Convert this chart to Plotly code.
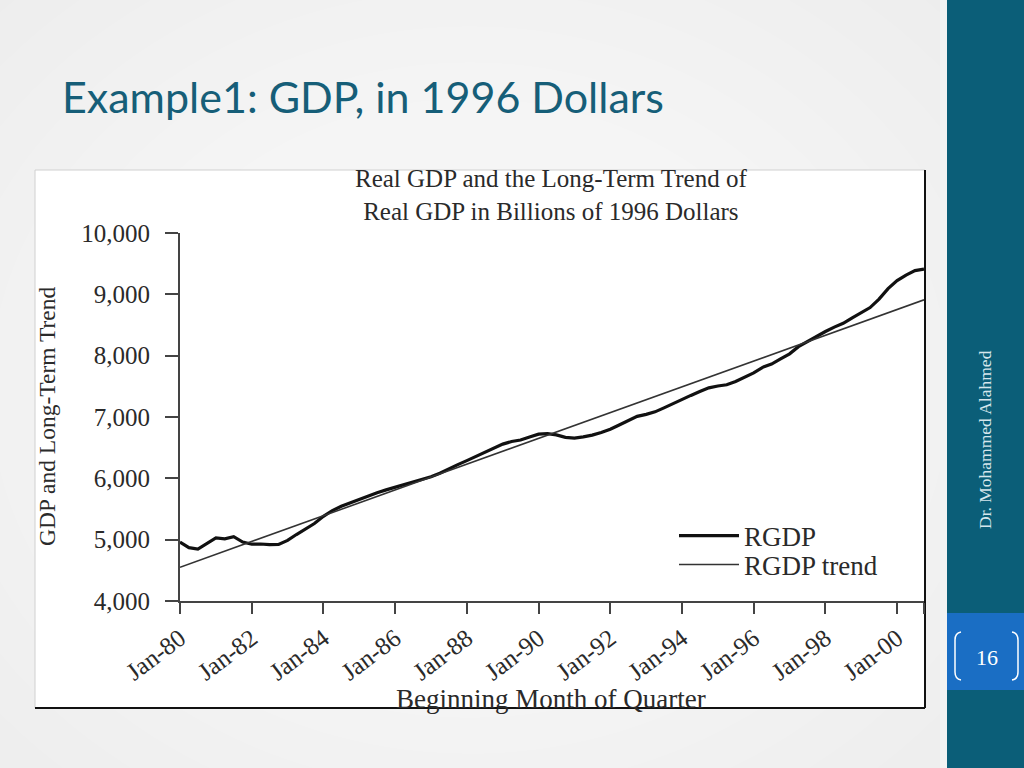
import plotly.graph_objects as go
import pandas as pd

# ---------------- data ----------------
quarters = pd.date_range("1980-01-01", periods=84, freq="QS")  # 1980Q1 .. 2000Q4
rgdp = [4960, 4870, 4848, 4940, 5029, 5013, 5048, 4961, 4926, 4929,
        4919, 4923, 4989, 5084, 5166, 5263, 5381, 5475, 5544, 5602,
        5656, 5714, 5764, 5812, 5855, 5903, 5944, 5984, 6026, 6083,
        6157, 6224, 6289, 6356, 6421, 6492, 6558, 6600, 6625, 6675,
        6720, 6730, 6708, 6668, 6656, 6677, 6705, 6748, 6801, 6870,
        6946, 7010, 7043, 7084, 7149, 7220, 7283, 7352, 7415, 7476,
        7505, 7526, 7578, 7647, 7718, 7810, 7863, 7947, 8030, 8147,
        8232, 8304, 8394, 8466, 8527, 8617, 8708, 8784, 8922, 9093,
        9223, 9314, 9386, 9410]
trend_dates = ["1980-01-01", "2000-10-01"]
trend_values = [4550, 8910]

x_tick_dates = ["1980-01-01", "1982-01-01", "1984-01-01", "1986-01-01",
                "1988-01-01", "1990-01-01", "1992-01-01", "1994-01-01",
                "1996-01-01", "1998-01-01", "2000-01-01", "2000-10-01"]
x_tick_labels = ["Jan-80", "Jan-82", "Jan-84", "Jan-86", "Jan-88", "Jan-90",
                 "Jan-92", "Jan-94", "Jan-96", "Jan-98", "Jan-00", ""]
y_ticks = [4000, 5000, 6000, 7000, 8000, 9000, 10000]
y_tick_labels = ["4,000", "5,000", "6,000", "7,000", "8,000", "9,000", "10,000"]

slide_title = "Example1: GDP, in 1996 Dollars"
chart_title = ("Real GDP and the Long-Term Trend of<br>"
               "Real GDP in Billions of 1996 Dollars")
x_title = "Beginning Month of Quarter"
y_title = "GDP and Long-Term Trend"
author = "Dr. Mohammed Alahmed"
page_no = "16"

# ---------------- layout helpers ----------------
W, H = 1024, 768
L, R, T, B = 180, 924, 233, 601


def px(x):
    return (x - L) / (R - L)


def py(y):
    return (B - y) / (B - T)


SERIF = "Liberation Serif, Times New Roman, serif"
TXT = "#2a2a2a"

fig = go.Figure()
fig.add_trace(go.Scatter(x=quarters, y=rgdp, mode="lines", name="RGDP",
                         legend="legend",
                         line=dict(color="#111111", width=3.2)))
fig.add_trace(go.Scatter(x=trend_dates, y=trend_values, mode="lines",
                         name="RGDP trend", legend="legend2",
                         line=dict(color="#333333", width=1.6)))

shapes = []
# slide background: smooth radial lightening toward the centre
cx, cy = 470, 390
for k in range(16):
    r = 760 - k * 36
    shapes.append(dict(type="circle", xref="paper", yref="paper", layer="below",
                       x0=px(cx - r * 1.2), x1=px(cx + r * 1.2),
                       y0=py(cy + r), y1=py(cy - r),
                       fillcolor="white", opacity=0.09, line=dict(width=0)))
# chart image box
shapes.append(dict(type="rect", xref="paper", yref="paper", layer="below",
                   x0=px(35), x1=px(925), y0=py(708), y1=py(170),
                   fillcolor="white", line=dict(color="#d0d0d0", width=1)))
shapes.append(dict(type="line", xref="paper", yref="paper", layer="below",
                   x0=px(925), x1=px(925), y0=py(708), y1=py(170),
                   line=dict(color="#111111", width=2)))
shapes.append(dict(type="line", xref="paper", yref="paper", layer="below",
                   x0=px(35), x1=px(925), y0=py(708), y1=py(708),
                   line=dict(color="#111111", width=2)))
# sidebar
shapes.append(dict(type="rect", xref="paper", yref="paper", layer="below",
                   x0=px(940), x1=px(947), y0=py(775), y1=py(-5),
                   fillcolor="#f3f3f3", line=dict(width=0)))
shapes.append(dict(type="rect", xref="paper", yref="paper", layer="below",
                   x0=px(947), x1=px(1030), y0=py(775), y1=py(-5),
                   fillcolor="#0b5e78", line=dict(width=0)))
shapes.append(dict(type="rect", xref="paper", yref="paper", layer="below",
                   x0=px(947), x1=px(1030), y0=py(690), y1=py(613),
                   fillcolor="#1a6ec4", line=dict(width=0)))


def path(points_cmds):
    out = []
    for cmd, pts in points_cmds:
        coords = " ".join(f"{px(x):.5f},{py(y):.5f}" for x, y in pts)
        out.append(f"{cmd} {coords}")
    return " ".join(out)


left_br = path([("M", [(961, 632)]), ("Q", [(955, 633), (955, 640)]),
                ("L", [(955, 672)]), ("Q", [(955, 679), (961, 680)])])
right_br = path([("M", [(1012, 632)]), ("Q", [(1018, 633), (1018, 640)]),
                 ("L", [(1018, 672)]), ("Q", [(1018, 679), (1012, 680)])])
for p in (left_br, right_br):
    shapes.append(dict(type="path", xref="paper", yref="paper", path=p,
                       line=dict(color="white", width=1.5)))

annotations = [
    dict(text=slide_title, xref="paper", yref="paper", x=px(60), y=py(97),
         xanchor="left", yanchor="middle", showarrow=False,
         font=dict(family="Lato, Open Sans, sans-serif",
                   size=43, color="#165e78")),
    dict(text=chart_title, xref="paper", yref="paper", x=px(551), y=py(195),
         xanchor="center", yanchor="middle", showarrow=False,
         font=dict(family=SERIF, size=25, color=TXT)),
    dict(text=y_title, xref="paper", yref="paper", x=px(47), y=py(417),
         xanchor="center", yanchor="middle", textangle=-90, showarrow=False,
         font=dict(family=SERIF, size=23.5, color=TXT)),
    dict(text=x_title, xref="paper", yref="paper", x=px(551), y=py(699),
         xanchor="center", yanchor="middle", showarrow=False,
         font=dict(family=SERIF, size=27, color=TXT)),
    dict(text=author, xref="paper", yref="paper", x=px(985), y=py(440),
         xanchor="center", yanchor="middle", textangle=-90, showarrow=False,
         font=dict(family=SERIF, size=17.5, color="#d6e6ec")),
    dict(text=page_no, xref="paper", yref="paper", x=px(987), y=py(657),
         xanchor="center", yanchor="middle", showarrow=False,
         font=dict(family=SERIF, size=22, color="white")),
]

legend_common = dict(xanchor="left", yanchor="middle",
                     bgcolor="rgba(0,0,0,0)",
                     font=dict(family=SERIF, size=27, color=TXT),
                     itemwidth=60)

fig.update_layout(
    width=W, height=H,
    margin=dict(l=L, r=W - R, t=T, b=H - B, pad=0),
    paper_bgcolor="#e3e3e3",
    plot_bgcolor="rgba(0,0,0,0)",
    shapes=shapes,
    annotations=annotations,
    showlegend=True,
    legend=dict(x=px(674), y=py(536), **legend_common),
    legend2=dict(x=px(674), y=py(565), **legend_common),
    xaxis=dict(type="date", range=["1980-01-01", "2000-10-01"],
               tickmode="array", tickvals=x_tick_dates, ticktext=x_tick_labels,
               tickangle=-37, ticks="outside", ticklen=11, tickwidth=2,
               tickcolor="#444444", showline=True, linecolor="#444444",
               linewidth=2, showgrid=False, zeroline=False,
               tickfont=dict(family=SERIF, size=25, color=TXT)),
    yaxis=dict(range=[4000, 10000], tickmode="array", tickvals=y_ticks,
               ticktext=y_tick_labels, ticks="outside", ticklen=13, tickwidth=2,
               tickcolor="#444444", showline=True, linecolor="#444444",
               linewidth=2, showgrid=False, zeroline=False,
               ticklabelstandoff=10,
               tickfont=dict(family=SERIF, size=25, color=TXT)),
)

fig.write_html("out.html",
               config={"displayModeBar": False},
               post_script="document.body.style.margin='0';"
                           "document.body.style.overflow='hidden';")
